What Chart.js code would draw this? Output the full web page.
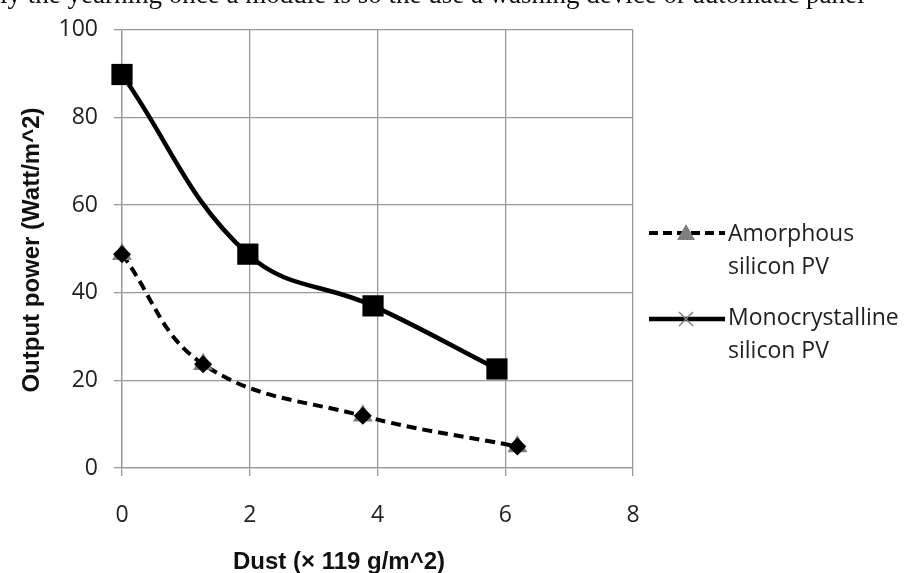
<!DOCTYPE html>
<html>
<head>
<meta charset="utf-8">
<script src="https://cdn.jsdelivr.net/npm/chart.js@4.4.0/dist/chart.umd.min.js"></script>
<style>
  body { margin: 0; background: #fff; }
  #wrap { position: relative; width: 913px; height: 573px; }
</style>
</head>
<body>
<div id="wrap"><canvas id="c" width="913" height="573"></canvas></div>
<script>
// values
var amorphousX = [0, 1.27, 3.77, 6.19];
var amorphousY = [48.8, 23.7, 11.9, 4.9];
var monoX = [0, 1.97, 3.93, 5.87];
var monoY = [89.8, 48.8, 37.0, 22.6];
var xTicks = [0, 2, 4, 6, 8];
var yTicks = [0, 20, 40, 60, 80, 100];
var seriesNames = [['Amorphous', 'silicon PV'], ['Monocrystalline', 'silicon PV']];
var xTitle = 'Dust (\u00d7 119 g/m^2)';
var yTitle = 'Output power (Watt/m^2)';
var pageText = 'ly the yearning once a module is so the use a washing device or automatic panel';

function toPoints(xs, ys) {
  return xs.map(function(x, i) { return {x: x, y: ys[i]}; });
}

var gridColor = '#999999';
var tickFont = {family: "'Open Sans'", size: 23};

// legend + axis titles, drawn by hand so the line and marker sit together
var extras = {
  id: 'extras',
  afterDraw: function(chart) {
    var ctx = chart.ctx;
    ctx.save();

    ctx.fillStyle = '#111';
    ctx.font = "27px 'Liberation Serif'";
    ctx.textBaseline = 'alphabetic';
    ctx.textAlign = 'left';
    ctx.fillText(pageText, 0, 3);

    ctx.font = "bold 24px 'Liberation Sans'";
    ctx.textAlign = 'center';
    ctx.textBaseline = 'middle';
    ctx.fillText(xTitle, 339, 562);
    ctx.save();
    ctx.translate(32, 250);
    ctx.rotate(-Math.PI / 2);
    ctx.fillText(yTitle, 0, 0);
    ctx.restore();

    // entry 1 : dashed + triangle
    ctx.strokeStyle = '#000';
    ctx.lineWidth = 4;
    ctx.setLineDash([9, 5]);
    ctx.beginPath(); ctx.moveTo(649, 233); ctx.lineTo(725, 233); ctx.stroke();
    ctx.setLineDash([]);
    ctx.fillStyle = '#7f7f7f';
    ctx.beginPath();
    ctx.moveTo(686, 224); ctx.lineTo(695, 240); ctx.lineTo(677, 240); ctx.closePath();
    ctx.fill();

    // entry 2 : solid + x
    ctx.lineWidth = 4.5;
    ctx.beginPath(); ctx.moveTo(649, 319); ctx.lineTo(725, 319); ctx.stroke();
    ctx.strokeStyle = '#7f7f7f';
    ctx.lineWidth = 1.5;
    ctx.beginPath();
    ctx.moveTo(679, 312); ctx.lineTo(693, 326);
    ctx.moveTo(693, 312); ctx.lineTo(679, 326);
    ctx.stroke();

    ctx.fillStyle = '#222';
    ctx.font = "23px 'Open Sans'";
    ctx.textAlign = 'left';
    ctx.textBaseline = 'middle';
    var tops = [234, 318];
    seriesNames.forEach(function(lines, i) {
      lines.forEach(function(t, j) {
        ctx.fillText(t, 728, tops[i] + j * 33);
      });
    });
    ctx.restore();
  }
};

new Chart(document.getElementById('c'), {
  type: 'scatter',
  data: {
    datasets: [
      {
        label: 'mono markers',
        data: toPoints(monoX, monoY),
        showLine: false,
        clip: false,
        pointStyle: 'rect',
        pointRadius: 15,
        backgroundColor: '#000',
        borderColor: '#000',
        borderWidth: 0,
        order: 0
      },
      {
        label: 'amorphous markers',
        data: toPoints(amorphousX, amorphousY),
        showLine: false,
        clip: false,
        pointStyle: 'rectRot',
        pointRadius: 9,
        backgroundColor: '#000',
        borderColor: '#000',
        borderWidth: 0,
        order: 1
      },
      {
        label: 'Monocrystalline silicon PV',
        data: toPoints(monoX, monoY),
        showLine: true,
        clip: false,
        tension: 0.4,
        borderColor: '#000',
        borderWidth: 4.5,
        pointStyle: 'crossRot',
        pointRadius: 7,
        pointBorderColor: '#7f7f7f',
        pointBorderWidth: 1.5,
        order: 2
      },
      {
        label: 'Amorphous silicon PV',
        data: toPoints(amorphousX, amorphousY),
        showLine: true,
        clip: false,
        tension: 0.4,
        borderColor: '#000',
        borderWidth: 4,
        borderDash: [10, 6],
        pointStyle: 'triangle',
        pointRadius: 11.5,
        pointBackgroundColor: '#7f7f7f',
        pointBorderColor: '#7f7f7f',
        pointBorderWidth: 0,
        order: 3
      }
    ]
  },
  options: {
    responsive: false,
    animation: false,
    devicePixelRatio: 1,
    layout: {padding: {top: 21, right: 280, left: 0, bottom: 0}},
    plugins: {legend: {display: false}, tooltip: {enabled: false}},
    scales: {
      x: {
        type: 'linear',
        min: 0, max: 8,
        afterBuildTicks: function(s) { s.ticks = xTicks.map(function(v) { return {value: v}; }); },
        afterFit: function(s) { s.height = 105; },
        ticks: {font: tickFont, color: '#222', padding: 26, maxRotation: 0},
        grid: {color: gridColor, lineWidth: 1.3, tickLength: 8, tickColor: gridColor},
        border: {color: gridColor, width: 1.3}
      },
      y: {
        type: 'linear',
        min: 0, max: 100,
        afterBuildTicks: function(s) { s.ticks = yTicks.map(function(v) { return {value: v}; }); },
        afterFit: function(s) { s.width = 122; },
        ticks: {font: tickFont, color: '#222', padding: 16},
        grid: {color: gridColor, lineWidth: 1.3, tickLength: 8, tickColor: gridColor},
        border: {color: gridColor, width: 1.3}
      }
    }
  },
  plugins: [extras]
});
</script>
</body>
</html>
